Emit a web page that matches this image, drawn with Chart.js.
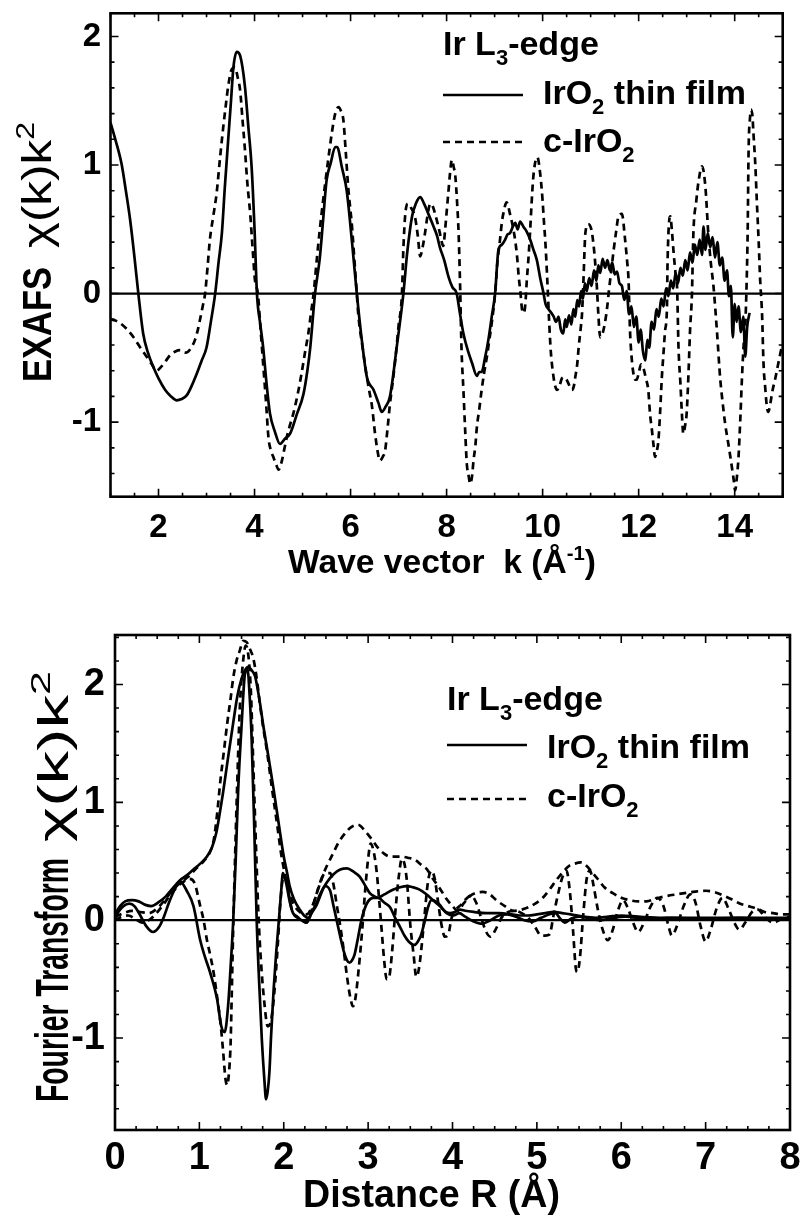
<!DOCTYPE html>
<html><head><meta charset="utf-8">
<script src="https://cdn.jsdelivr.net/npm/chart.js@4.4.1/dist/chart.umd.min.js"></script>
<style>
html,body{margin:0;padding:0;background:#fff;}
#wrap{position:relative;width:807px;height:1222px;overflow:hidden;background:#fff}
canvas{position:absolute;left:0;}
#c1{top:0}
#c2{top:600px}
</style></head><body>
<div id="wrap"><canvas id="c1" width="807" height="600"></canvas><canvas id="c2" width="807" height="622"></canvas></div>
<script>
// ---------- Top panel: EXAFS chi(k)k^2 ----------
const kFilm = [1.00,1.10,1.23,1.32,1.41,1.50,1.58,1.68,1.78,1.89,2.00,2.14,2.26,2.38,2.48,2.59,2.70,2.80,2.90,3.00,3.09,3.18,3.25,3.32,3.38,3.45,3.51,3.56,3.63,3.70,3.80,3.87,3.94,4.00,4.05,4.12,4.18,4.25,4.32,4.42,4.53,4.63,4.74,4.88,5.02,5.10,5.16,5.26,5.36,5.43,5.50,5.59,5.68,5.72,5.82,5.92,6.03,6.13,6.24,6.34,6.48,6.58,6.65,6.73,6.82,6.96,7.10,7.18,7.28,7.36,7.45,7.53,7.62,7.73,7.80,7.86,7.95,8.04,8.12,8.21,8.28,8.35,8.44,8.53,8.63,8.68,8.73,8.80,8.87,8.94,9.01,9.08,9.15,9.22,9.27,9.32,9.38,9.43,9.48,9.53,9.60,9.67,9.74,9.81,9.88,9.95,10.02,10.06,10.12,10.18,10.23,10.28,10.33,10.38,10.43,10.47,10.50,10.55,10.60,10.64,10.68,10.72,10.76,10.80,10.84,10.88,10.92,10.97,11.02,11.07,11.12,11.16,11.20,11.25,11.30,11.35,11.40,11.45,11.50,11.55,11.60,11.65,11.70,11.75,11.80,11.85,11.90,11.95,12.00,12.04,12.09,12.14,12.18,12.22,12.27,12.32,12.37,12.42,12.47,12.52,12.57,12.62,12.67,12.72,12.77,12.82,12.87,12.92,12.97,13.02,13.07,13.12,13.17,13.22,13.27,13.32,13.35,13.39,13.44,13.49,13.54,13.59,13.64,13.69,13.74,13.79,13.84,13.88,13.92,13.96,14.00,14.04,14.08,14.13,14.18,14.22,14.26,14.31];
const chiFilm = [1.33,1.20,1.01,0.80,0.57,0.28,0.00,-0.31,-0.46,-0.57,-0.66,-0.75,-0.80,-0.83,-0.82,-0.79,-0.71,-0.62,-0.52,-0.42,-0.22,0.00,0.24,0.47,0.82,1.19,1.50,1.76,1.88,1.85,1.61,1.30,0.98,0.50,0.00,-0.24,-0.42,-0.70,-0.93,-1.07,-1.17,-1.13,-1.09,-0.94,-0.78,-0.60,-0.42,0.00,0.28,0.58,0.88,1.02,1.14,1.14,0.98,0.80,0.40,0.00,-0.38,-0.65,-0.75,-0.85,-0.92,-0.88,-0.80,-0.42,0.00,0.32,0.60,0.70,0.75,0.70,0.62,0.52,0.45,0.36,0.26,0.13,0.05,0.00,-0.16,-0.31,-0.44,-0.54,-0.64,-0.61,-0.61,-0.50,-0.36,-0.18,0.00,0.34,0.38,0.42,0.46,0.47,0.52,0.55,0.50,0.56,0.52,0.48,0.42,0.34,0.26,0.12,0.00,-0.08,-0.12,-0.15,-0.18,-0.22,-0.18,-0.28,-0.31,-0.20,-0.26,-0.17,-0.24,-0.12,-0.18,-0.05,-0.10,0.02,-0.04,0.08,0.02,0.12,0.06,0.18,0.10,0.22,0.16,0.27,0.20,0.26,0.18,0.24,0.15,0.17,0.08,0.06,-0.05,0.02,-0.16,-0.10,-0.26,-0.18,-0.38,-0.28,-0.45,-0.52,-0.36,-0.42,-0.22,-0.28,-0.12,-0.18,-0.04,-0.10,0.04,-0.02,0.10,0.04,0.16,0.08,0.20,0.14,0.26,0.18,0.32,0.24,0.38,0.30,0.42,0.30,0.52,0.34,0.47,0.36,0.44,0.28,0.40,0.22,0.28,0.10,0.18,-0.02,0.06,-0.34,-0.08,-0.22,-0.10,-0.30,-0.18,-0.49,-0.26,-0.15];

const kBulk = [1.00,1.10,1.20,1.35,1.48,1.62,1.75,1.86,1.96,2.03,2.14,2.24,2.35,2.45,2.55,2.62,2.70,2.76,2.82,2.86,2.92,2.97,3.02,3.07,3.14,3.21,3.28,3.35,3.40,3.45,3.52,3.59,3.65,3.70,3.75,3.80,3.85,3.91,3.96,4.01,4.07,4.12,4.18,4.24,4.29,4.34,4.39,4.45,4.50,4.57,4.62,4.67,4.74,4.81,4.90,4.98,5.05,5.12,5.18,5.23,5.30,5.36,5.43,5.52,5.61,5.68,5.75,5.80,5.85,5.90,5.95,6.03,6.08,6.13,6.16,6.25,6.34,6.40,6.44,6.51,6.56,6.61,6.67,6.72,6.77,6.82,6.88,6.93,7.00,7.07,7.10,7.14,7.20,7.27,7.34,7.40,7.45,7.50,7.55,7.60,7.66,7.71,7.76,7.81,7.86,7.90,7.93,7.97,8.00,8.04,8.07,8.11,8.15,8.18,8.22,8.25,8.28,8.31,8.35,8.39,8.42,8.46,8.49,8.53,8.56,8.60,8.63,8.68,8.73,8.78,8.84,8.89,8.94,9.01,9.06,9.11,9.15,9.18,9.25,9.32,9.38,9.43,9.47,9.50,9.54,9.57,9.61,9.64,9.67,9.71,9.74,9.77,9.80,9.84,9.89,9.95,10.00,10.02,10.06,10.09,10.11,10.14,10.17,10.21,10.25,10.30,10.35,10.40,10.45,10.50,10.55,10.61,10.65,10.68,10.72,10.75,10.79,10.82,10.85,10.89,10.95,11.02,11.06,11.09,11.13,11.16,11.20,11.24,11.27,11.31,11.34,11.38,11.43,11.48,11.53,11.58,11.65,11.72,11.76,11.79,11.82,11.85,11.89,11.93,11.96,12.00,12.05,12.10,12.15,12.20,12.24,12.27,12.31,12.34,12.38,12.41,12.45,12.48,12.52,12.55,12.59,12.60,12.62,12.64,12.66,12.69,12.73,12.77,12.80,12.83,12.87,12.90,12.93,12.97,13.00,13.04,13.07,13.11,13.14,13.20,13.25,13.32,13.39,13.45,13.50,13.56,13.63,13.70,13.75,13.80,13.86,13.91,13.98,14.01,14.04,14.08,14.12,14.15,14.19,14.22,14.25,14.27,14.29,14.32,14.34,14.37,14.39,14.43,14.46,14.50,14.53,14.57,14.60,14.64,14.67,14.70,14.74,14.79,14.84,14.91,14.98,15.00];
const chiBulk = [-0.20,-0.21,-0.23,-0.28,-0.34,-0.42,-0.49,-0.55,-0.60,-0.58,-0.53,-0.48,-0.45,-0.44,-0.46,-0.45,-0.41,-0.36,-0.28,-0.21,-0.10,0.00,0.20,0.42,0.60,0.78,1.05,1.30,1.46,1.61,1.74,1.76,1.68,1.58,1.35,1.12,0.86,0.62,0.35,0.10,0.00,-0.25,-0.55,-0.85,-1.12,-1.22,-1.27,-1.33,-1.37,-1.30,-1.21,-1.12,-1.02,-0.93,-0.78,-0.62,-0.46,-0.31,-0.14,0.00,0.28,0.50,0.73,1.00,1.25,1.40,1.45,1.42,1.35,1.10,0.83,0.52,0.26,0.00,-0.16,-0.42,-0.65,-0.78,-0.86,-1.09,-1.22,-1.30,-1.27,-1.22,-1.05,-0.86,-0.68,-0.52,-0.25,0.00,0.35,0.62,0.70,0.66,0.60,0.45,0.29,0.36,0.47,0.60,0.70,0.68,0.62,0.55,0.47,0.40,0.37,0.50,0.63,0.80,0.93,1.04,0.98,0.92,0.70,0.47,0.08,-0.42,-0.75,-1.09,-1.32,-1.42,-1.48,-1.42,-1.30,-1.18,-1.04,-0.90,-0.75,-0.62,-0.49,-0.36,-0.23,0.00,0.25,0.41,0.55,0.62,0.71,0.62,0.52,0.41,0.28,0.14,0.00,-0.12,-0.15,-0.08,0.10,0.30,0.49,0.70,0.88,1.01,1.06,0.93,0.72,0.60,0.38,0.16,0.00,-0.25,-0.45,-0.60,-0.70,-0.75,-0.72,-0.66,-0.65,-0.67,-0.71,-0.75,-0.72,-0.65,-0.55,-0.42,-0.28,-0.16,0.10,0.47,0.54,0.49,0.38,0.26,0.05,-0.16,-0.34,-0.32,-0.28,-0.20,-0.12,0.02,0.18,0.34,0.48,0.60,0.62,0.41,0.25,0.10,-0.29,-0.48,-0.62,-0.67,-0.67,-0.62,-0.55,-0.58,-0.66,-0.75,-0.95,-1.04,-1.18,-1.27,-1.22,-1.15,-0.90,-0.67,-0.45,-0.29,-0.10,0.20,0.47,0.58,0.60,0.50,0.31,0.15,0.05,-0.42,-0.70,-0.93,-1.09,-1.02,-0.93,-0.60,-0.29,0.00,0.47,0.72,0.88,0.99,0.83,0.47,0.25,0.05,-0.29,-0.67,-0.85,-1.01,-1.15,-1.27,-1.45,-1.53,-1.45,-1.27,-0.95,-0.67,-0.38,-0.25,0.10,0.47,1.12,1.37,1.43,1.38,1.25,1.00,0.73,0.40,0.11,-0.16,-0.54,-0.75,-0.88,-0.92,-0.86,-0.75,-0.67,-0.54,-0.42,-0.40];

// ---------- Bottom panel: Fourier transform ----------
const rFilmMag = [0.00,0.06,0.12,0.20,0.28,0.36,0.43,0.53,0.60,0.67,0.77,0.85,0.93,1.01,1.09,1.15,1.20,1.24,1.28,1.34,1.40,1.45,1.50,1.54,1.58,1.62,1.66,1.71,1.76,1.82,1.88,1.94,2.00,2.04,2.07,2.12,2.19,2.24,2.29,2.34,2.39,2.43,2.51,2.59,2.67,2.75,2.83,2.90,2.96,3.02,3.08,3.12,3.17,3.22,3.30,3.38,3.46,3.53,3.61,3.69,3.77,3.85,3.92,3.97,4.03,4.09,4.15,4.25,4.40,4.55,4.70,4.80,4.90,5.00,5.10,5.20,5.30,5.40,5.55,5.70,5.85,6.00,6.20,6.50,7.00,7.50,8.00];
const ftFilmMag = [0.05,0.12,0.16,0.17,0.16,0.13,0.12,0.16,0.20,0.26,0.34,0.38,0.43,0.48,0.54,0.62,0.74,0.90,1.08,1.38,1.67,1.90,2.05,2.12,2.15,2.12,2.07,1.88,1.64,1.38,1.11,0.82,0.54,0.40,0.29,0.18,0.09,0.04,0.02,0.08,0.15,0.22,0.32,0.39,0.43,0.44,0.41,0.37,0.30,0.23,0.20,0.19,0.21,0.23,0.26,0.28,0.29,0.28,0.26,0.22,0.17,0.12,0.07,0.06,0.07,0.09,0.08,0.07,0.06,0.06,0.05,0.04,0.04,0.05,0.06,0.07,0.06,0.05,0.03,0.02,0.03,0.04,0.03,0.02,0.02,0.02,0.02];

const rFilmRe = [0.00,0.05,0.10,0.17,0.23,0.30,0.37,0.45,0.52,0.58,0.64,0.70,0.77,0.85,0.93,1.01,1.07,1.13,1.21,1.26,1.30,1.34,1.37,1.40,1.43,1.46,1.50,1.54,1.57,1.60,1.62,1.65,1.68,1.71,1.74,1.77,1.79,1.81,1.83,1.85,1.88,1.91,1.94,1.97,1.99,2.03,2.07,2.11,2.19,2.27,2.33,2.39,2.44,2.49,2.55,2.59,2.63,2.67,2.71,2.75,2.78,2.81,2.84,2.88,2.92,2.96,3.00,3.06,3.12,3.19,3.26,3.32,3.38,3.43,3.48,3.55,3.59,3.63,3.67,3.71,3.75,3.80,3.85,3.89,3.93,4.01,4.08,4.15,4.25,4.35,4.45,4.55,4.65,4.75,4.85,4.95,5.05,5.15,5.22,5.28,5.33,5.40,5.50,5.60,5.75,5.90,6.05,6.30,6.60,7.00,7.40,7.80,8.00];
const ftFilmRe = [0.02,0.08,0.12,0.14,0.12,0.04,-0.05,-0.10,-0.06,0.03,0.15,0.25,0.33,0.25,0.12,-0.17,-0.32,-0.45,-0.67,-0.90,-0.95,-0.73,-0.40,-0.02,0.50,1.11,1.65,2.09,2.13,1.85,1.53,0.80,-0.02,-0.55,-1.01,-1.35,-1.52,-1.45,-1.29,-0.98,-0.59,-0.28,-0.02,0.25,0.40,0.31,0.16,0.06,0.01,-0.02,0.06,0.13,0.22,0.29,0.25,0.12,-0.01,-0.14,-0.26,-0.34,-0.36,-0.34,-0.29,-0.15,0.00,0.10,0.16,0.19,0.19,0.15,0.11,0.02,-0.06,-0.13,-0.18,-0.21,-0.18,-0.12,-0.01,0.11,0.17,0.16,0.13,0.09,0.06,0.04,0.06,0.03,-0.01,-0.03,0.00,0.04,0.05,0.03,0.00,-0.01,0.02,0.05,0.06,0.01,-0.02,0.01,0.03,0.02,0.00,0.02,0.03,0.01,0.02,0.01,0.02,0.01,0.02];

const rBulkMag = [0.00,0.10,0.20,0.30,0.40,0.50,0.60,0.70,0.80,0.87,0.95,1.05,1.12,1.17,1.21,1.25,1.29,1.33,1.37,1.40,1.44,1.48,1.52,1.56,1.60,1.64,1.68,1.72,1.76,1.80,1.86,1.92,1.97,2.03,2.08,2.13,2.19,2.27,2.35,2.43,2.51,2.58,2.65,2.73,2.80,2.88,2.96,3.04,3.11,3.18,3.26,3.38,3.47,3.56,3.63,3.70,3.77,3.85,3.93,4.00,4.06,4.13,4.20,4.27,4.36,4.44,4.52,4.62,4.72,4.82,4.90,5.00,5.07,5.15,5.23,5.31,5.38,5.45,5.52,5.59,5.65,5.71,5.80,5.90,6.00,6.10,6.20,6.30,6.40,6.50,6.66,6.85,7.00,7.10,7.21,7.30,7.41,7.50,7.60,7.70,7.80,7.90,8.00];
const ftBulkMag = [0.03,0.06,0.08,0.07,0.06,0.10,0.18,0.27,0.33,0.37,0.43,0.50,0.57,0.68,0.90,1.19,1.43,1.67,1.88,2.05,2.20,2.29,2.37,2.36,2.30,2.22,2.05,1.82,1.62,1.44,1.12,0.82,0.56,0.34,0.20,0.12,0.07,0.05,0.14,0.32,0.46,0.56,0.66,0.74,0.79,0.81,0.76,0.69,0.62,0.57,0.54,0.54,0.53,0.51,0.47,0.43,0.35,0.27,0.18,0.12,0.08,0.14,0.20,0.23,0.24,0.22,0.17,0.12,0.08,0.09,0.11,0.15,0.19,0.26,0.34,0.41,0.46,0.48,0.49,0.46,0.41,0.36,0.28,0.23,0.19,0.17,0.16,0.16,0.18,0.20,0.22,0.24,0.25,0.24,0.21,0.18,0.14,0.12,0.10,0.07,0.06,0.05,0.05];

const rBulkRe = [0.00,0.08,0.16,0.24,0.32,0.40,0.48,0.56,0.64,0.72,0.80,0.88,0.94,1.01,1.05,1.09,1.13,1.17,1.21,1.25,1.28,1.31,1.33,1.35,1.37,1.38,1.40,1.42,1.44,1.48,1.52,1.55,1.58,1.61,1.64,1.67,1.70,1.73,1.77,1.81,1.85,1.89,1.93,1.96,1.99,2.02,2.06,2.10,2.16,2.22,2.27,2.32,2.38,2.43,2.49,2.55,2.59,2.63,2.67,2.71,2.75,2.79,2.82,2.85,2.89,2.93,2.97,3.00,3.03,3.06,3.10,3.13,3.16,3.19,3.22,3.25,3.28,3.32,3.36,3.40,3.43,3.46,3.50,3.54,3.57,3.60,3.64,3.67,3.71,3.75,3.79,3.83,3.87,3.91,3.95,3.99,4.04,4.10,4.16,4.22,4.28,4.34,4.40,4.45,4.51,4.58,4.66,4.74,4.82,4.90,4.98,5.05,5.10,5.15,5.20,5.26,5.31,5.35,5.39,5.43,5.46,5.48,5.51,5.55,5.59,5.63,5.67,5.72,5.78,5.84,5.90,5.96,6.02,6.08,6.14,6.20,6.27,6.35,6.43,6.50,6.56,6.60,6.66,6.74,6.82,6.88,6.94,7.00,7.06,7.13,7.20,7.27,7.34,7.40,7.47,7.55,7.62,7.70,7.80,7.90,8.00];
const ftBulkRe = [0.00,0.03,0.04,0.01,-0.02,0.00,0.05,0.12,0.20,0.27,0.32,0.35,0.32,0.12,0.00,-0.17,-0.30,-0.45,-0.65,-0.87,-1.10,-1.35,-1.40,-1.30,-1.05,-0.75,-0.10,0.45,0.96,1.81,2.21,2.33,2.25,1.95,1.30,0.65,0.05,-0.35,-0.70,-0.90,-0.85,-0.60,-0.20,0.15,0.35,0.36,0.22,0.08,0.03,0.00,-0.02,0.06,0.20,0.31,0.40,0.40,0.30,0.12,-0.05,-0.25,-0.48,-0.66,-0.73,-0.66,-0.40,-0.08,0.30,0.52,0.65,0.60,0.42,0.18,-0.08,-0.34,-0.50,-0.48,-0.30,0.05,0.35,0.52,0.48,0.33,-0.04,-0.30,-0.48,-0.42,-0.18,0.05,0.33,0.42,0.35,0.15,-0.04,-0.14,-0.12,0.02,0.09,0.13,0.18,0.21,0.15,0.02,-0.10,-0.14,-0.08,0.02,0.07,0.08,0.06,0.02,-0.06,-0.13,-0.13,-0.12,0.05,0.25,0.38,0.42,0.25,-0.10,-0.40,-0.44,-0.32,0.05,0.35,0.42,0.30,0.10,-0.08,-0.17,-0.08,0.08,0.17,0.10,-0.02,-0.10,-0.02,0.12,0.19,0.12,-0.05,-0.13,-0.05,0.12,0.22,0.15,-0.05,-0.18,-0.08,0.10,0.19,0.10,-0.02,-0.08,-0.02,0.07,0.09,0.03,-0.02,0.01,0.03];

// tick label lists
const topXTicks = [2,4,6,8,10,12,14];
const topYTicks = [-1,0,1,2];
const botXTicks = [0,1,2,3,4,5,6,7,8];
const botYTicks = [-1,0,1,2];

const FONT = "'Liberation Sans', Arial, Helvetica, sans-serif";
const pts = (xs, ys) => xs.map((x, i) => ({x: x, y: ys[i]}));

function drawRuns(ctx, runs, opts) {
  // runs: [text, size, weight, dy]
  ctx.save();
  let total = 0;
  const widths = runs.map(r => { ctx.font = `${r[2]} ${r[1]}px ${FONT}`; const w = ctx.measureText(r[0]).width; total += w; return w; });
  const sx = opts.len ? opts.len / total : 1;
  ctx.translate(opts.x, opts.y);
  if (opts.rot) ctx.rotate(opts.rot);
  ctx.scale(sx, 1);
  ctx.fillStyle = '#000';
  ctx.textBaseline = 'alphabetic';
  ctx.textAlign = 'left';
  let cx = 0;
  runs.forEach((r, i) => { ctx.font = `${r[2]} ${r[1]}px ${FONT}`; ctx.fillText(r[0], cx, r[3] || 0); cx += widths[i]; });
  ctx.restore();
}

const decor = {
  id: 'decor',
  afterDraw(chart, args, o) {
    const ctx = chart.ctx, a = chart.chartArea;
    const xs = chart.scales.x, ys = chart.scales.y;
    ctx.save();
    ctx.strokeStyle = '#000';
    // zero line
    ctx.lineWidth = 2.2;
    const y0 = ys.getPixelForValue(0);
    ctx.beginPath(); ctx.moveTo(a.left, y0); ctx.lineTo(a.right, y0); ctx.stroke();
    // inner ticks on all four sides
    ctx.lineWidth = 1.6;
    ctx.beginPath();
    const i0 = Math.ceil(xs.min / o.xMinor - 1e-6), i1 = Math.floor(xs.max / o.xMinor + 1e-6);
    for (let i = i0; i <= i1; i++) {
      const v = i * o.xMinor, p = xs.getPixelForValue(v);
      const r = v / o.xMajor, L = Math.abs(r - Math.round(r)) < 1e-6 ? 8 : 4;
      ctx.moveTo(p, a.bottom); ctx.lineTo(p, a.bottom - L);
      ctx.moveTo(p, a.top); ctx.lineTo(p, a.top + L);
    }
    const j0 = Math.ceil(ys.min / o.yMinor - 1e-6), j1 = Math.floor(ys.max / o.yMinor + 1e-6);
    for (let j = j0; j <= j1; j++) {
      const v = j * o.yMinor, p = ys.getPixelForValue(v);
      const r = v / o.yMajor, L = Math.abs(r - Math.round(r)) < 1e-6 ? 8 : 4;
      ctx.moveTo(a.left, p); ctx.lineTo(a.left + L, p);
      ctx.moveTo(a.right, p); ctx.lineTo(a.right - L, p);
    }
    ctx.stroke();
    // frame
    ctx.lineWidth = 2.6;
    ctx.strokeRect(a.left, a.top, a.right - a.left, a.bottom - a.top);
    // legend
    const lg = o.legend;
    ctx.lineWidth = 2.6;
    ctx.beginPath(); ctx.moveTo(lg.x, lg.ySolid); ctx.lineTo(lg.x + 80, lg.ySolid); ctx.stroke();
    ctx.setLineDash([7, 5]);
    ctx.beginPath(); ctx.moveTo(lg.x, lg.yDash); ctx.lineTo(lg.x + 80, lg.yDash); ctx.stroke();
    ctx.setLineDash([]);
    ctx.restore();
    drawRuns(ctx, [['Ir L', 34, 'bold'], ['3', 22, 'bold', 10], ['-edge', 34, 'bold']], {x: lg.x, y: lg.b1});
    drawRuns(ctx, [['IrO', 34, 'bold'], ['2', 22, 'bold', 10], [' thin film', 34, 'bold']], {x: lg.x + 100, y: lg.b2});
    drawRuns(ctx, [['c-IrO', 34, 'bold'], ['2', 22, 'bold', 10]], {x: lg.x + 100, y: lg.b3});
    // axis titles
    o.titles.forEach(t => drawRuns(ctx, t.runs, t.opt));
  }
};

function makeChart(id, H, area, ranges, tickFont, datasets, dec, tickPad) {
  return new Chart(document.getElementById(id), {
    type: 'line',
    data: { datasets: datasets },
    options: {
      responsive: false, animation: false, devicePixelRatio: 1,
      layout: { padding: { top: area.top, right: 807 - area.right, left: 0, bottom: 0 } },
      plugins: { legend: { display: false }, tooltip: { enabled: false }, decor: dec },
      elements: { point: { radius: 0 }, line: { borderColor: '#000', borderWidth: 2.7, cubicInterpolationMode: 'monotone', fill: false } },
      scales: {
        x: {
          type: 'linear', min: ranges.xmin, max: ranges.xmax,
          grid: { display: false, drawTicks: false, tickLength: 0 }, border: { display: false },
          afterFit: s => { s.height = H - area.bottom; s.paddingLeft = 0; s.paddingRight = 0; },
          afterBuildTicks: s => { s.ticks = ranges.xticks.map(v => ({value: v})); },
          ticks: { color: '#000', font: { family: FONT, size: tickFont, weight: 'bold' }, padding: tickPad.x, maxRotation: 0, autoSkip: false, callback: v => String(v) }
        },
        y: {
          type: 'linear', min: ranges.ymin, max: ranges.ymax,
          grid: { display: false, drawTicks: false, tickLength: 0 }, border: { display: false },
          afterFit: s => { s.width = area.left; s.paddingTop = 0; s.paddingBottom = 0; },
          afterBuildTicks: s => { s.ticks = ranges.yticks.map(v => ({value: v})); },
          ticks: { color: '#000', font: { family: FONT, size: tickFont, weight: 'bold' }, padding: tickPad.y, callback: v => String(v) }
        }
      }
    },
    plugins: [decor]
  });
}

const solid = (d) => ({ data: d, borderColor: '#000', borderWidth: 2.7 });
const dashed = (d) => ({ data: d, borderColor: '#000', borderWidth: 2.7, borderDash: [7, 5] });

makeChart('c1', 600, {left: 110.5, right: 782.7, top: 13.3, bottom: 496.7},
  {xmin: 1, xmax: 15, ymin: -1.58, ymax: 2.18, xticks: topXTicks, yticks: topYTicks}, 33,
  [solid(pts(kFilm, chiFilm)), dashed(pts(kBulk, chiBulk))],
  { xMinor: 0.5, xMajor: 2, yMinor: 0.2, yMajor: 1,
    legend: { x: 443, ySolid: 95, yDash: 142, b1: 55, b2: 104, b3: 152 },
    titles: [
      { runs: [['Wave vector  k (Å', 33, 'bold'], ['-1', 20, 'bold', -13], [')', 33, 'bold']], opt: { x: 288, y: 573, len: 308 } },
      { runs: [['EXAFS', 40, 'bold']], opt: { x: 51, y: 382, rot: -Math.PI / 2, len: 115 } },
      { runs: [['χ(k)k', 40, 'normal'], ['2', 26, 'normal', -17]], opt: { x: 51, y: 248, rot: -Math.PI / 2, len: 126 } }
    ] },
  { x: 11.1, y: 9.5 });

makeChart('c2', 622, {left: 115, right: 790, top: 35, bottom: 530},
  {xmin: 0, xmax: 8, ymin: -1.78, ymax: 2.42, xticks: botXTicks, yticks: botYTicks}, 38,
  [solid(pts(rFilmMag, ftFilmMag)), solid(pts(rFilmRe, ftFilmRe)), dashed(pts(rBulkMag, ftBulkMag)), dashed(pts(rBulkRe, ftBulkRe))],
  { xMinor: 0.25, xMajor: 1, yMinor: 0.2, yMajor: 1,
    legend: { x: 447, ySolid: 145, yDash: 199, b1: 110, b2: 158, b3: 207 },
    titles: [
      { runs: [['Distance R (Å)', 38, 'bold']], opt: { x: 303, y: 607, len: 257 } },
      { runs: [['Fourier Transform', 46, 'bold']], opt: { x: 68, y: 502, rot: -Math.PI / 2, len: 244 } },
      { runs: [['χ(k)k', 42, 'normal'], ['2', 27, 'normal', -18]], opt: { x: 68, y: 242, rot: -Math.PI / 2, len: 171 } }
    ] },
  { x: 5.7, y: 10 });
</script></body></html>
